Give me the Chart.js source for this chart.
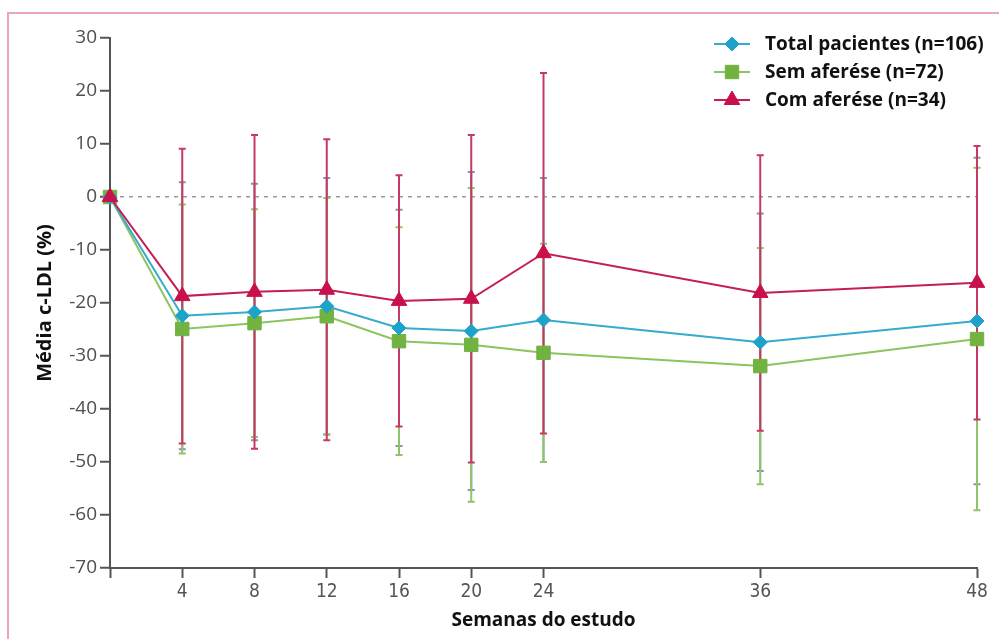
<!DOCTYPE html>
<html>
<head>
<meta charset="utf-8">
<script src="https://cdn.jsdelivr.net/npm/chart.js@4.4.0/dist/chart.umd.min.js"></script>
<style>
  html, body { margin: 0; padding: 0; background: #fff; }
  #wrap { position: relative; width: 999px; height: 639px; overflow: hidden; }
  #frame { position: absolute; left: 7px; top: 12px; width: 1100px; height: 700px; border: 2px solid #eaa6b8; }
  canvas { position: absolute; left: 0; top: 0; }
</style>
</head>
<body>
<div id="wrap">
  <div id="frame"></div>
  <canvas id="ldlChart" width="999" height="639"></canvas>
</div>
<script>
// semanas do estudo
const weeks = [0, 4, 8, 12, 16, 20, 24, 36, 48];
const weekTicks = [0, 4, 8, 12, 16, 20, 24, 36, 48];

// média c-LDL (%) e desvio padrão
const totalMean = [0, -22.4, -21.7, -20.6, -24.7, -25.3, -23.2, -27.4, -23.4];
const totalSd   = [0, 25.2, 24.2, 24.2, 22.3, 30.0, 26.8, 24.3, 30.8];
const semMean   = [0, -24.9, -23.8, -22.5, -27.2, -27.9, -29.4, -31.9, -26.8];
const semSd     = [0, 23.5, 21.5, 22.3, 21.5, 29.6, 20.6, 22.3, 32.3];
const comMean   = [0, -18.7, -17.9, -17.5, -19.6, -19.2, -10.6, -18.1, -16.2];
const comSd     = [0, 27.8, 29.6, 28.4, 23.7, 30.9, 34.0, 26.0, 25.8];

const toPoints = arr => arr.map((v, i) => ({ x: weeks[i], y: v }));

const errorBars = {
  id: 'errorBars',
  beforeDatasetsDraw(chart) {
    const { ctx, scales: { x, y } } = chart;
    [0, 1, 2].forEach(di => {
      const ds = chart.data.datasets[di];
      ctx.save();
      ctx.strokeStyle = ds.errorColor;
      ctx.lineWidth = 2;
      ds.data.forEach((p, i) => {
        const sd = ds.sd[i];
        if (!sd) return;
        const px = x.getPixelForValue(p.x);
        const top = y.getPixelForValue(p.y + sd);
        const bot = y.getPixelForValue(p.y - sd);
        ctx.beginPath();
        ctx.moveTo(px, top); ctx.lineTo(px, bot);
        ctx.moveTo(px - 3.5, top); ctx.lineTo(px + 3.5, top);
        ctx.moveTo(px - 3.5, bot); ctx.lineTo(px + 3.5, bot);
        ctx.stroke();
      });
      ctx.restore();
    });
  }
};

const boxLegend = {
  id: 'boxLegend',
  afterDraw(chart) {
    const ctx = chart.ctx;
    chart.data.datasets.forEach((ds, i) => {
      const cy = 44 + i * 28;
      ctx.save();
      ctx.strokeStyle = ds.borderColor;
      ctx.lineWidth = 2;
      ctx.beginPath();
      ctx.moveTo(714, cy); ctx.lineTo(750, cy);
      ctx.stroke();
      ctx.fillStyle = ds.pointBackgroundColor;
      ctx.strokeStyle = ds.pointBorderColor;
      ctx.lineWidth = 1;
      Chart.helpers.drawPoint(ctx, { pointStyle: ds.pointStyle, radius: ds.pointRadius, rotation: 0, borderWidth: 1 }, 732, cy);
      ctx.fillStyle = '#111';
      ctx.font = "bold 19px 'Open Sans'";
      ctx.textBaseline = 'middle';
      ctx.fillText(ds.label, 765, cy + 1);
      ctx.restore();
    });
  }
};

new Chart(document.getElementById('ldlChart').getContext('2d'), {
  type: 'line',
  data: {
    datasets: [{
      label: 'Total pacientes (n=106)',
      data: toPoints(totalMean),
      sd: totalSd,
      borderColor: '#35abcf',
      errorColor: '#8a8fb8',
      pointStyle: 'rectRot',
      pointRadius: 7,
      pointBackgroundColor: '#1fa2c9',
      pointBorderColor: '#1fa2c9',
      order: 1
    }, {
      label: 'Sem aferése (n=72)',
      data: toPoints(semMean),
      sd: semSd,
      borderColor: '#8cc460',
      errorColor: '#8fc46a',
      pointStyle: 'rect',
      pointRadius: 9.5,
      pointBackgroundColor: '#72b240',
      pointBorderColor: '#72b240',
      order: 2
    }, {
      label: 'Com aferése (n=34)',
      data: toPoints(comMean),
      sd: comSd,
      borderColor: '#c41e55',
      errorColor: '#c63a62',
      pointStyle: 'triangle',
      pointRadius: 9,
      pointBackgroundColor: '#c8104a',
      pointBorderColor: '#c8104a',
      order: 0
    }]
  },
  options: {
    responsive: false,
    animation: false,
    devicePixelRatio: 1,
    layout: { padding: { left: 24, right: 22, top: 38, bottom: 0 } },
    elements: {
      line: { borderWidth: 2, tension: 0 },
      point: { borderWidth: 1 }
    },
    datasets: { line: { clip: false } },
    plugins: {
      legend: { display: false },
      tooltip: { enabled: false }
    },
    scales: {
      x: {
        type: 'linear',
        min: 0,
        max: 48,
        afterBuildTicks: s => { s.ticks = weekTicks.map(v => ({ value: v })); },
        afterFit: s => { s.height = 71; },
        ticks: {
          autoSkip: false,
          maxRotation: 0,
          padding: 3,
          color: '#555',
          font: { family: "'Liberation Sans Narrow', 'DejaVu Sans Condensed', sans-serif", size: 19 },
          callback: v => v === 0 ? '' : v
        },
        grid: { drawOnChartArea: false, tickLength: 10, tickColor: '#555', tickWidth: 2 },
        border: { color: '#555', width: 2 },
        title: {
          display: true,
          text: 'Semanas do estudo',
          color: '#111',
          font: { family: "'Open Sans'", size: 19, weight: 'bold' },
          padding: { top: 0, bottom: 7 }
        }
      },
      y: {
        min: -70,
        max: 30,
        afterFit: s => { s.width = 86; },
        ticks: {
          stepSize: 10,
          padding: 3,
          color: '#4f4f4f',
          font: { family: "'Open Sans'", size: 19 }
        },
        grid: {
          drawOnChartArea: true,
          lineWidth: 1.5,
          color: c => c.tick && c.tick.value === 0 ? '#9a9a9a' : 'rgba(0,0,0,0)',
          tickLength: 10,
          tickColor: '#555',
          tickWidth: 2
        },
        border: {
          color: '#555',
          width: 2,
          dash: c => c.tick && c.tick.value === 0 ? [4, 5] : []
        },
        title: {
          display: true,
          text: 'Média c-LDL (%)',
          color: '#111',
          font: { family: "'Open Sans'", size: 20, weight: 'bold' },
          padding: { top: 9, bottom: 0 }
        }
      }
    }
  },
  plugins: [errorBars, boxLegend]
});
</script>
</body>
</html>
